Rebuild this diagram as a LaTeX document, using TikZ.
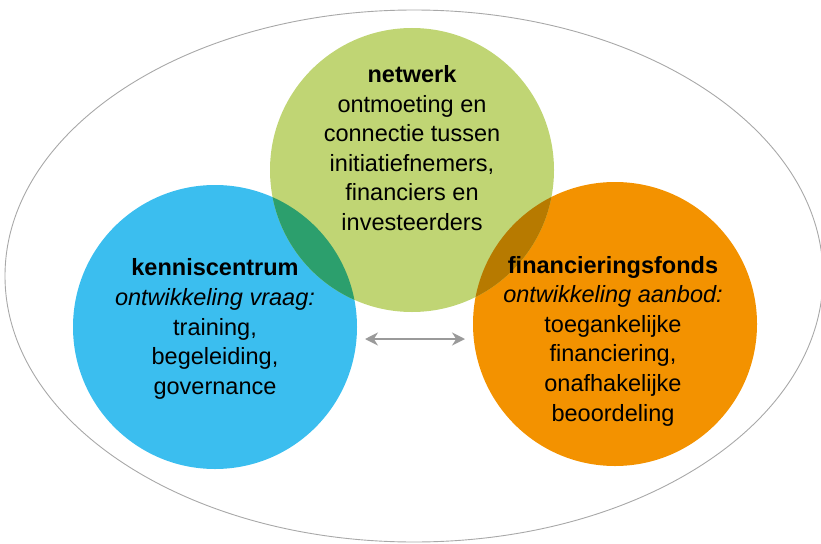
\documentclass[tikz,border=0pt]{standalone}
\usepackage{fontspec}
\setmainfont{Liberation Sans}
\usetikzlibrary{arrows.meta,shapes.geometric}
\definecolor{cgreen}{HTML}{C0D574}
\definecolor{cblue}{HTML}{3BBEEF}
\definecolor{corange}{HTML}{F39200}
\definecolor{cbg}{HTML}{2C9F6D}
\definecolor{cog}{HTML}{B77A00}
\definecolor{cline}{HTML}{A8A8A8}
\definecolor{carrow}{HTML}{9A9A9A}
\tikzset{
  blob/.style={circle,minimum size=284pt,inner sep=0pt,draw=none},
  lbl/.style={align=center,font=\fontsize{23.5}{29.6}\selectfont,inner sep=0pt,text=black},
  link/.style={draw=carrow,line width=1.8pt,{Stealth[length=13pt,width=13pt]}-{Stealth[length=13pt,width=13pt]}}
}
\begin{document}
\begin{tikzpicture}[x=1pt,y=-1pt]
\useasboundingbox (0,0) rectangle (821,543);
\node[draw=cline,line width=0.9pt,ellipse,minimum width=818pt,minimum height=532pt,inner sep=0pt] (outer) at (414,276) {};
\node[blob,fill=cblue] (blue) at (215,327) {};
\node[blob,fill=corange] (orange) at (615,324) {};
\node[blob,fill=cgreen] (green) at (412,170) {};
\begin{scope}
  \clip (412,170) circle (142);
  \fill[cbg] (215,327) circle (142);
  \fill[cog] (615,324) circle (142);
\end{scope}
\node[lbl] (tgreen) at (412,148) {\textbf{netwerk}\\ontmoeting en\\connectie tussen\\initiatiefnemers,\\financiers en\\investeerders};
\node[lbl] (tblue) at (215,329) {\textbf{kenniscentrum}\\\textit{ontwikkeling vraag:}\\training,\\begeleiding,\\governance};
\node[lbl] (torange) at (613,341) {\textbf{financieringsfonds}\\\textit{ontwikkeling aanbod:}\\toegankelijke\\financiering,\\onafhakelijke\\beoordeling};
\coordinate (al) at (365,339);
\coordinate (ar) at (465,339);
\draw[link] (al) -- (ar);
\end{tikzpicture}
\end{document}
